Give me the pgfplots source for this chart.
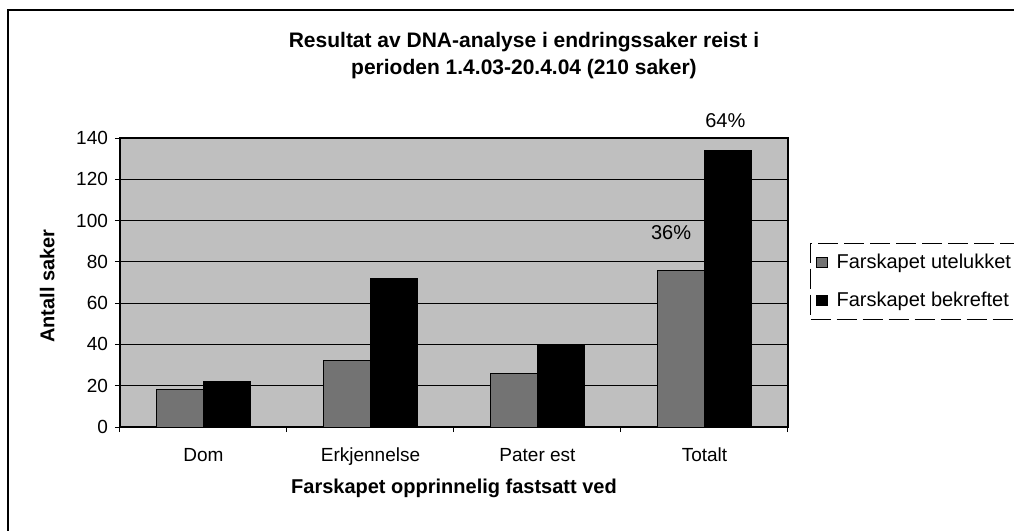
\documentclass[border=0pt]{standalone}
\usepackage{fontspec}
\setmainfont{Liberation Sans}
\usepackage{pgfplots}
\pgfplotsset{compat=1.18}
\pgfplotstableread{
x a b
0 18 22
1 32 72
2 26 40
3 76 134
}\datatable
\begin{document}
\begin{tikzpicture}
\useasboundingbox (0,0) rectangle (507pt,-265.5pt);
\draw[line width=0.8pt] (4pt,-300pt) -- (4pt,-5pt) -- (560pt,-5pt);
\node[anchor=base,font=\fontsize{10.5}{12}\selectfont\bfseries] at (262pt,-23.85pt) {Resultat av DNA-analyse i endringssaker reist i};
\node[anchor=base,font=\fontsize{10.5}{12}\selectfont\bfseries] at (262pt,-37pt) {perioden 1.4.03-20.4.04 (210 saker)};
\begin{axis}[
  at={(60pt,-213.5pt)}, anchor=south west,
  scale only axis, width=334pt, height=144.5pt,
  xmin=-0.5, xmax=3.5, ymin=0, ymax=140,
  clip=false,
  ybar=0pt, bar width=23.5pt,
  axis background/.style={fill=black!25},
  axis line style={black, line width=0.6pt},
  xtick={-0.5,0.5,1.5,2.5,3.5}, xticklabels={,,,,},
  extra x ticks={0,1,2,3},
  extra x tick labels={Dom,Erkjennelse,Pater est,Totalt},
  extra x tick style={major tick length=0pt, tick label style={yshift=-7pt}},
  ytick={0,20,...,140},
  xtick pos=bottom, ytick pos=left,
  tick align=outside, major tick length=2.5pt,
  tick style={black, line width=0.5pt},
  ymajorgrids, grid style={black, line width=0.5pt},
  tick label style={font=\fontsize{9.5}{11}\selectfont},
  /pgf/number format/assume math mode=true,
  ylabel={Antall saker},
  ylabel style={font=\fontsize{10}{12}\selectfont\bfseries, at={(axis description cs:-0.109,0.488)}, anchor=center},
  xlabel={Farskapet opprinnelig fastsatt ved},
  xlabel style={font=\fontsize{10}{12}\selectfont\bfseries, at={(axis description cs:0.5,-0.211)}, anchor=center},
  legend style={at={(axis description cs:1.033,0.6365)}, anchor=north west,
    draw=black, dash pattern=on 10pt off 3pt, line width=0.5pt,
    font=\fontsize{10}{12}\selectfont, inner xsep=2.5pt, inner ysep=3pt,
    row sep=6.5pt, legend cell align=left},
  legend image code/.code={\draw[#1,solid,draw=black] (0pt,-2.5pt) rectangle (5.5pt,2.5pt); \path (8pt,0pt);},
]
\addplot[fill=black!55, draw=black, line width=0.5pt] table[x=x,y=a] {\datatable};
\addplot[fill=black, draw=black, line width=0.5pt] table[x=x,y=b] {\datatable};
\legend{Farskapet utelukket, Farskapet bekreftet}
\node[font=\fontsize{10}{12}\selectfont] at (axis cs:2.8,94) {36\%};
\node[font=\fontsize{10}{12}\selectfont] at (axis cs:3.125,148.5) {64\%};
\end{axis}
\end{tikzpicture}
\end{document}
